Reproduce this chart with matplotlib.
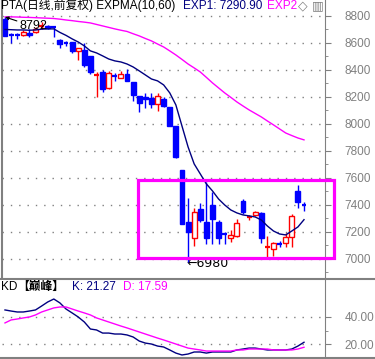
import numpy as np
import matplotlib.pyplot as plt
from matplotlib.patches import Rectangle
from matplotlib.lines import Line2D

plt.rcParams['font.family'] = ['Liberation Sans', 'Noto Sans CJK SC', 'DejaVu Sans']

# daily candles (open, high, low, close)
opens = [8778, 8662, 8659, 8659, 8674, 8681, 8722, 8726, 8719, 8622,
         8600, 8607, 8541, 8548, 8504, 8360, 8385, 8267, 8358, 8341,
         8370, 8311, 8207, 8200, 8193, 8148, 8185, 8126, 7985, 7659,
         7274, 7156, 7370, 7274, 7400, 7274, 7188, 7156, 7170, 7430,
         7308, 7326, 7341, 7087, 7074, 7113, 7119, 7163, 7504, 7402]
highs = [8792, 8674, 8674, 8696, 8704, 8720, 8756, 8734, 8719, 8630,
         8615, 8607, 8563, 8600, 8504, 8385, 8400, 8393, 8378, 8393,
         8407, 8311, 8207, 8230, 8230, 8230, 8200, 8126, 7985, 7659,
         7452, 7378, 7415, 7570, 7496, 7289, 7200, 7215, 7296, 7444,
         7326, 7356, 7348, 7170, 7126, 7133, 7193, 7333, 7548, 7422]
lows = [8652, 8600, 8630, 8652, 8644, 8674, 8704, 8704, 8644, 8563,
        8578, 8526, 8474, 8422, 8370, 8200, 8237, 8259, 8319, 8341,
        8319, 8170, 8089, 8119, 8119, 8096, 8126, 7985, 7748, 7259,
        6980, 7096, 7274, 7111, 7111, 7111, 7111, 7126, 7163, 7333,
        7289, 7319, 7119, 7007, 7022, 7089, 7089, 7089, 7378, 7356]
closes = [8652, 8656, 8652, 8681, 8659, 8704, 8726, 8711, 8711, 8593,
          8593, 8541, 8563, 8437, 8385, 8363, 8259, 8378, 8356, 8370,
          8319, 8215, 8156, 8185, 8148, 8207, 8133, 7985, 7756, 7259,
          7200, 7348, 7289, 7156, 7296, 7156, 7185, 7178, 7267, 7348,
          7311, 7348, 7156, 7089, 7119, 7111, 7163, 7319, 7422, 7400]

exp1 = [8700, 8698, 8696, 8696, 8694, 8696, 8702, 8704, 8704, 8678,
        8656, 8630, 8607, 8578, 8541, 8526, 8504, 8481, 8467, 8459,
        8444, 8422, 8393, 8363, 8333, 8319, 8289, 8230, 8141, 7985,
        7830, 7704, 7630, 7556, 7504, 7444, 7400, 7363, 7341, 7326,
        7319, 7311, 7289, 7244, 7207, 7185, 7178, 7207, 7237, 7291]
exp2 = [8793, 8793, 8792, 8790, 8789, 8787, 8785, 8783, 8781, 8776,
        8770, 8765, 8759, 8754, 8748, 8737, 8726, 8715, 8704, 8694,
        8685, 8668, 8652, 8633, 8615, 8592, 8570, 8541, 8511, 8478,
        8444, 8415, 8385, 8345, 8304, 8267, 8230, 8197, 8163, 8133,
        8104, 8078, 8052, 8022, 7993, 7963, 7933, 7914, 7896, 7882]

k_vals = [45.2, 44.4, 43.7, 43.7, 44.4, 45.2, 48.1, 51.1, 53.3, 50.4,
          45.9, 43.0, 40.0, 36.3, 31.1, 30.4, 28.1, 28.1, 27.4, 27.4,
          26.7, 25.2, 22.2, 20.7, 20.0, 18.5, 17.8, 15.6, 13.3, 11.9,
          12.6, 14.1, 14.1, 13.3, 14.1, 14.1, 14.1, 14.1, 15.6, 16.3,
          17.0, 17.0, 16.3, 15.6, 15.6, 15.6, 15.6, 16.3, 18.5, 21.3]
d_vals = [35.6, 37.8, 38.5, 39.3, 40.0, 41.5, 43.7, 45.2, 46.7, 47.4,
          47.4, 45.9, 44.4, 43.0, 41.5, 39.3, 37.8, 36.3, 34.8, 33.3,
          31.9, 30.4, 28.9, 27.4, 25.9, 24.4, 23.0, 21.5, 20.0, 18.5,
          17.0, 16.3, 15.6, 14.8, 14.8, 14.8, 14.8, 14.8, 15.6, 15.6,
          16.3, 16.3, 16.3, 16.3, 15.6, 15.6, 15.6, 15.6, 16.3, 17.6]

price_ticks = [7000, 7200, 7400, 7600, 7800, 8000, 8200, 8400, 8600, 8800]
kd_ticks = [20, 40]

RED = '#ff0000'
BLUE = '#0000ff'
NAVY = '#000080'
MAG = '#ff00ff'
GRAY = '#808080'

W, H = 375, 359
fig = plt.figure(figsize=(3.75, 3.59), dpi=100)


def px(x, y):
    return x / W, 1 - y / H


ax = fig.add_axes([2 / W, 1 - 278 / H, 323 / W, 278 / H])
kd = fig.add_axes([2 / W, 1 - 357 / H, 323 / W, 78 / H])

n = len(closes)
xs = np.arange(n)
bw = 0.8
for i in range(n):
    o, h, l, c = opens[i], highs[i], lows[i], closes[i]
    col = RED if c >= o else BLUE
    ax.vlines(i, l, h, color=col, lw=1, zorder=3)
    if abs(c - o) < 12:
        ax.hlines((o + c) / 2, i - bw / 2, i + bw / 2, color=col, lw=1.6, zorder=4)
    elif col == RED:
        ax.add_patch(Rectangle((i - bw / 2, o), bw, c - o, facecolor='white',
                               edgecolor=RED, lw=1, zorder=4))
    else:
        ax.add_patch(Rectangle((i - bw / 2, c), bw, o - c, facecolor=BLUE,
                               edgecolor=BLUE, lw=1, zorder=4))

ax.plot(xs, exp1, color=NAVY, lw=1, zorder=5)
ax.plot(xs, exp2, color=MAG, lw=1, zorder=5)

ax.set_xlim(-0.49, 52.44)
ax.set_ylim(6859, 8918)
ax.set_xticks([])
ax.yaxis.tick_right()
ax.set_yticks(price_ticks)
ax.set_yticks(np.arange(6900, 8900, 100), minor=True)
ax.tick_params(axis='y', which='major', length=4, color=GRAY, labelcolor=GRAY,
               labelsize=8.5, pad=10)
ax.tick_params(axis='y', which='minor', length=2.5, color=GRAY)
ax.grid(axis='y', which='major', color=GRAY, lw=1, linestyle=(0, (1, 5)))
for s in ['top', 'bottom']:
    ax.spines[s].set_visible(False)
ax.spines['left'].set_color(GRAY)
ax.spines['left'].set_linewidth(1.5)
ax.spines['right'].set_color(GRAY)

# highest / lowest labels
ax.annotate('8792', xy=(0, 8792), xytext=(2.4, 8722), fontsize=9,
            va='center', ha='left', zorder=6,
            arrowprops=dict(arrowstyle='-|>', color='black', lw=0.8,
                            mutation_scale=5, shrinkA=0, shrinkB=0))
ax.text(29.7, 6970, '←6980', fontsize=9, va='center', ha='left', zorder=2,
        family=['DejaVu Sans'])

# selection box
ax.add_patch(Rectangle((21.8, 7004), 32.1, 578, fill=False, edgecolor=MAG,
                       lw=2.3, zorder=7, clip_on=False))

# KD panel
kd.plot(xs, k_vals, color=NAVY, lw=1)
kd.plot(xs, d_vals, color=MAG, lw=1)
kd.set_xlim(-0.49, 52.44)
kd.set_ylim(10.4, 68.1)
kd.set_xticks([])
kd.yaxis.tick_right()
kd.set_yticks(kd_ticks)
kd.set_yticklabels(['%.2f' % t for t in kd_ticks])
kd.set_yticks([30], minor=True)
kd.tick_params(axis='y', which='major', length=4, color=GRAY, labelcolor=GRAY,
               labelsize=8.5, pad=10)
kd.tick_params(axis='y', which='minor', length=2.5, color=GRAY)
kd.grid(axis='y', which='major', color=GRAY, lw=1, linestyle=(0, (1, 5)))
for s in ['top', 'bottom', 'left']:
    kd.spines[s].set_visible(False)
kd.spines['right'].set_color(GRAY)

# panel separators
for yy in [278.5, 357.5]:
    fig.add_artist(Line2D([0, 1], [1 - yy / H] * 2, color=GRAY, lw=1.5))

# header texts
ty = 6
fig.text(*px(1, ty), 'PTA(日线,前复权) EXPMA(10,60)', fontsize=8.5, va='center', color='black')
fig.text(*px(183, ty), 'EXP1: 7290.90', fontsize=8.5, va='center', color=NAVY)
fig.text(*px(267, ty), 'EXP2', fontsize=8.5, va='center', color=MAG)
fig.text(*px(298, ty), '◇', fontsize=9, va='center', color=GRAY,
         family=['DejaVu Sans'],
         bbox=dict(facecolor='white', edgecolor='none', pad=0.5))
fig.text(*px(312, ty), '▥', fontsize=9, va='center', color=GRAY,
         family=['DejaVu Sans'])

ky = 287
fig.text(*px(1, ky), 'KD', fontsize=8.5, va='center', color='black')
fig.text(*px(17, ky), '【巅峰】', fontsize=8.5, va='center', color='black', fontweight='bold')
fig.text(*px(72, ky), 'K: 21.27', fontsize=8.5, va='center', color=NAVY)
fig.text(*px(123, ky), 'D: 17.59', fontsize=8.5, va='center', color=MAG)

fig.savefig('out.png', dpi=100)
